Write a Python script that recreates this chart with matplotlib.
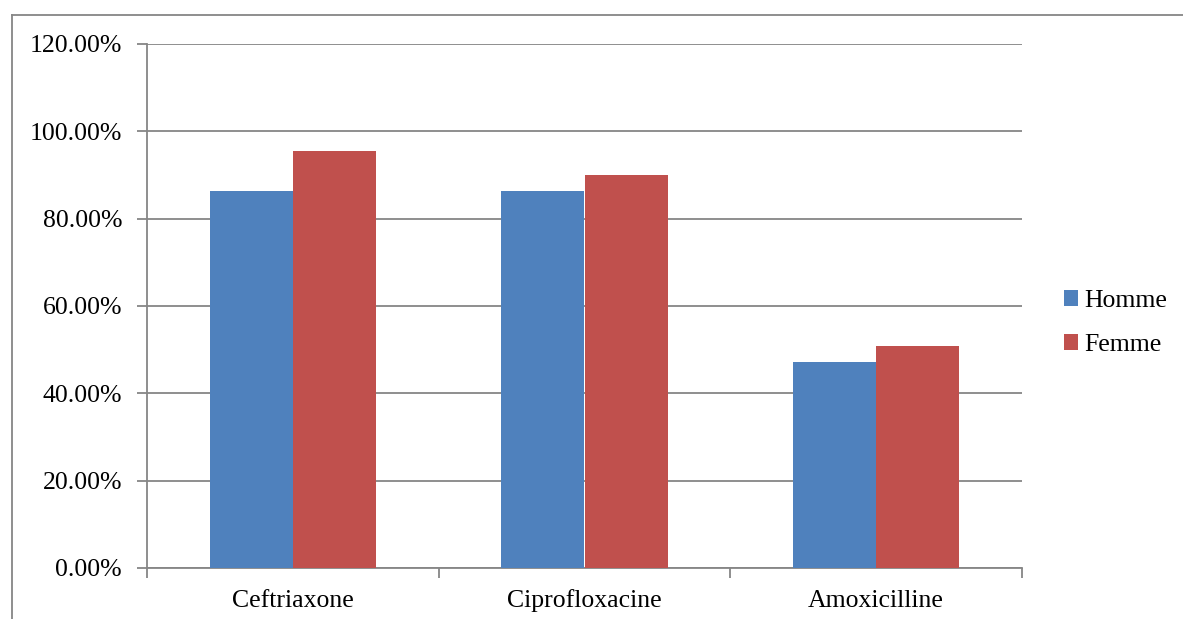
import matplotlib
matplotlib.use("Agg")
import matplotlib.pyplot as plt
from matplotlib.lines import Line2D
from matplotlib.ticker import FuncFormatter
import numpy as np

categories = ["Ceftriaxone", "Ciprofloxacine", "Amoxicilline"]
homme = [0.864, 0.864, 0.471]
femme = [0.955, 0.900, 0.509]
series_names = ["Homme", "Femme"]
colors = ["#4F81BD", "#C0504D"]

plt.rcParams['font.family'] = ['Liberation Serif', 'DejaVu Serif']
FS = 18.5

fig = plt.figure(figsize=(11.83, 6.19), dpi=100)
ax = fig.add_axes([147/1183, (619-568)/619, (1022-147)/1183, (568-44)/619])

x = np.arange(len(categories))
w = 1/3.5
ax.bar(x - w/2, homme, width=w, color=colors[0], label=series_names[0], zorder=3)
ax.bar(x + w/2, femme, width=w, color=colors[1], label=series_names[1], zorder=3)

ax.set_xlim(-0.5, len(categories) - 0.5)
ax.set_ylim(0, 1.2)
ax.set_yticks(np.arange(0, 1.21, 0.2))
ax.yaxis.set_major_formatter(FuncFormatter(lambda v, p: f"{v*100:.2f}%"))
ax.yaxis.grid(True, color="#868686", linewidth=1.3, zorder=0)

ax.set_xticks(np.arange(-0.5, len(categories), 1.0))
ax.set_xticklabels([])
ax.set_xticks(x, minor=True)
ax.set_xticklabels(categories, minor=True)
ax.tick_params(axis='x', which='minor', length=0, pad=28, labelsize=FS)
for lab in ax.get_xticklabels(minor=True):
    lab.set_verticalalignment('baseline')
ax.tick_params(axis='x', which='major', length=7, width=1.3, color="#868686")
ax.tick_params(axis='y', length=7, width=1.3, color="#868686", labelsize=FS, pad=11)

for s in ["top", "right"]:
    ax.spines[s].set_visible(False)
for s in ["left", "bottom"]:
    ax.spines[s].set_color("#868686")
    ax.spines[s].set_linewidth(1.3)

leg = fig.legend(loc="center left", bbox_to_anchor=(1064/1183, 1 - 323/619),
                 frameon=False, fontsize=FS, handlelength=0.55, handleheight=0.55,
                 handletextpad=0.25, labelspacing=0.85, borderpad=0, borderaxespad=0)

# outer chart frame (left and top edges visible)
fx0 = 12/1183
fy1 = 1 - 15/619
fc = "#868686"
fig.add_artist(Line2D([fx0, fx0], [0, fy1], transform=fig.transFigure, color=fc, lw=1.3))
fig.add_artist(Line2D([fx0, 1.0], [fy1, fy1], transform=fig.transFigure, color=fc, lw=1.3))

fig.savefig("out.png", dpi=100, facecolor="white")
